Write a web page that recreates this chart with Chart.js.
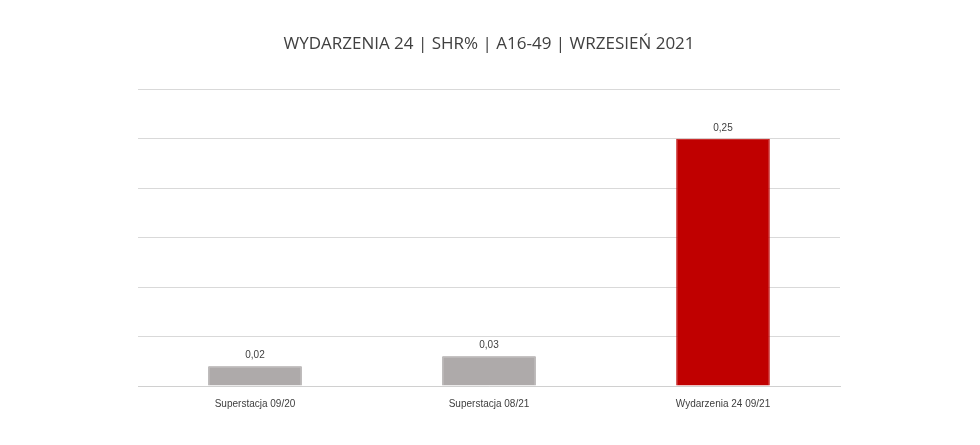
<!DOCTYPE html>
<html>
<head>
<meta charset="utf-8">
<script src="https://cdn.jsdelivr.net/npm/chart.js@4"></script>
<style>
  html, body { margin: 0; padding: 0; background: #fff; }
  #wrap { width: 980px; height: 445px; }
</style>
</head>
<body>
<div id="wrap"><canvas id="chart"></canvas></div>
<script>
// dane
const categories = ['Superstacja 09/20', 'Superstacja 08/21', 'Wydarzenia 24 09/21'];
const shrValues = [0.02, 0.03, 0.25];
const barColors = ['#AEAAAA', '#AEAAAA', '#C00000'];
const chartTitle = 'WYDARZENIA 24 | SHR% | A16-49 | WRZESIEŃ 2021';

// etykiety nad słupkami
const valueLabels = {
    id: 'valueLabels',
    afterDatasetsDraw(chart) {
        const c = chart.ctx;
        const meta = chart.getDatasetMeta(0);
        c.save();
        c.font = '10px "Liberation Sans", Arial, sans-serif';
        c.fillStyle = '#404040';
        c.textAlign = 'center';
        c.textBaseline = 'bottom';
        meta.data.forEach((bar, i) => {
            c.fillText(shrValues[i].toFixed(2).replace('.', ','), bar.x, bar.y - 6);
        });
        c.restore();
    }
};

new Chart(document.getElementById('chart'), {
    type: 'bar',
    data: {
        labels: categories,
        datasets: [{
            data: shrValues,
            backgroundColor: barColors,
            borderColor: ['#9a9696', '#9a9696', '#C00000'],
            borderWidth: 1,
            borderSkipped: 'bottom',
            categoryPercentage: 1,
            barPercentage: 0.4
        }]
    },
    options: {
        responsive: true,
        maintainAspectRatio: false,
        animation: false,
        layout: { padding: { left: 138, right: 140, top: 10, bottom: 31 } },
        plugins: {
            legend: { display: false },
            tooltip: { enabled: false },
            title: {
                display: true,
                text: chartTitle,
                color: '#404040',
                font: { family: '"Open Sans", sans-serif', size: 17, weight: 'normal' },
                padding: { top: 24, bottom: 35 }
            }
        },
        scales: {
            x: {
                grid: { display: false },
                border: { color: '#d0d0d0' },
                ticks: { color: '#404040', font: { family: '"Liberation Sans", Arial, sans-serif', size: 10 }, padding: 4 }
            },
            y: {
                min: 0,
                max: 0.3,
                ticks: { stepSize: 0.05, display: false },
                grid: { color: '#d9d9d9', drawTicks: false },
                border: { display: false }
            }
        }
    },
    plugins: [valueLabels]
});
</script>
</body>
</html>
